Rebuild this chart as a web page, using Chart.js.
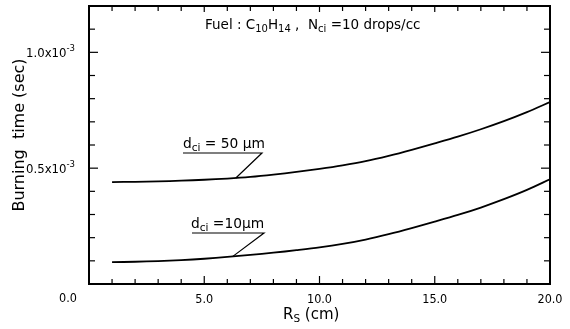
<!DOCTYPE html>
<html><head><meta charset="utf-8">
<script src="https://cdn.jsdelivr.net/npm/chart.js@4"></script>
<style>html,body{margin:0;padding:0;background:#fff}#wrap{width:570px;height:329px}</style>
</head><body><div id="wrap"><canvas id="c" width="570" height="329"></canvas></div>
<script>
// Source radius R_S (cm)
const rs = [1,2,3,4,5,6,7,8,9,10,11,12,13,14,15,16,17,18,19,20];
// Burning time (sec), d_ci = 50 um
const burn50 = [0.440e-3,0.441e-3,0.443e-3,0.446e-3,0.450e-3,0.455e-3,0.462e-3,0.472e-3,0.484e-3,0.497e-3,0.512e-3,0.530e-3,0.553e-3,0.579e-3,0.607e-3,0.636e-3,0.668e-3,0.703e-3,0.742e-3,0.785e-3];
// Burning time (sec), d_ci = 10 um
const burn10 = [0.094e-3,0.096e-3,0.099e-3,0.103e-3,0.109e-3,0.117e-3,0.126e-3,0.135e-3,0.146e-3,0.158e-3,0.173e-3,0.192e-3,0.215e-3,0.241e-3,0.269e-3,0.298e-3,0.330e-3,0.366e-3,0.406e-3,0.452e-3];
const xTickLabels = ['5.0','10.0','15.0','20.0'];
const yTickLabels = [[0.5e-3,'0.5x10','-3'],[1.0e-3,'1.0x10','-3']];

const FONT = '"DejaVu Sans",sans-serif';
const FONTC = '"DejaVu Sans Condensed","DejaVu Sans",sans-serif';

function interp(xs, ys, x){
  for(let i=0;i<xs.length-1;i++){
    if(x>=xs[i] && x<=xs[i+1]){const t=(x-xs[i])/(xs[i+1]-xs[i]);return ys[i]+t*(ys[i+1]-ys[i]);}
  }
  return ys[ys.length-1];
}

function drawRich(ctx, parts, x, y, fam){
  let cx = x;
  for(const [t,s,dy] of parts){
    ctx.font = s+'px '+(fam||FONT);
    ctx.fillText(t, cx, y+dy);
    cx += ctx.measureText(t).width;
  }
  return cx;
}
function richWidth(ctx, parts, fam){
  let w=0;
  for(const [t,s] of parts){ ctx.font = s+'px '+(fam||FONT); w += ctx.measureText(t).width; }
  return w;
}

const deco = {
  id:'deco',
  afterDraw(chart){
    const ctx = chart.ctx, xs = chart.scales.x, ys = chart.scales.y, a = chart.chartArea;
    ctx.save();
    ctx.strokeStyle='#000'; ctx.fillStyle='#000';
    // ticks
    ctx.lineWidth=1.2;
    for(let v=0; v<=20; v++){
      const px = xs.getPixelForValue(v);
      const L = v%5===0 ? 8 : 5;
      ctx.beginPath(); ctx.moveTo(px,a.bottom); ctx.lineTo(px,a.bottom-L); ctx.stroke();
      ctx.beginPath(); ctx.moveTo(px,a.top); ctx.lineTo(px,a.top+(v%5===0?6:5)); ctx.stroke();
    }
    for(let k=0; k<=12; k++){
      const py = ys.getPixelForValue(k*1e-4);
      const L = k%5===0 ? 9 : 6;
      ctx.beginPath(); ctx.moveTo(a.left,py); ctx.lineTo(a.left+L,py); ctx.stroke();
      ctx.beginPath(); ctx.moveTo(a.right,py); ctx.lineTo(a.right-L,py); ctx.stroke();
    }
    // frame
    ctx.lineWidth=2;
    ctx.strokeRect(a.left,a.top,a.right-a.left,a.bottom-a.top);
    ctx.textBaseline='alphabetic';
    // y tick labels with superscript
    for(const [v,main,sup] of yTickLabels){
      const py = ys.getPixelForValue(v);
      const parts=[[main,13,0],[sup,9.5,-6]];
      const w = richWidth(ctx, parts, FONTC);
      drawRich(ctx, parts, 75-w, py+5, FONTC);
    }
    // corner 0.0 label
    ctx.textAlign='center';
    ctx.font='12.5px '+FONTC;
    ctx.fillText('0.0', a.left-21, a.bottom+18);
    ctx.textAlign='left';
    // y title
    ctx.save();
    ctx.translate(24, 135); ctx.rotate(-Math.PI/2);
    ctx.textAlign='center'; ctx.font='16px '+FONT;
    ctx.fillText('Burning  time (sec)', 0, 0);
    ctx.restore();
    // x title
    drawRich(ctx, [['R',15,0],['S',10.5,3],[' (cm)',15,0]], 283, 319);
    // header
    drawRich(ctx, [['Fuel : C',13.5,0],['10',10,3],['H',13.5,0],['14',10,3],[' ,  N',13.5,0],['ci',10,3],[' =10 drops/cc',13.5,0]], 205, 29);
    // curve labels
    ctx.lineWidth=1.2;
    const labels = [
      {ys:burn50, xv:6.37, tx:183, ty:148, ux0:183, ux1:262, uy:153, txt:' = 50 µm', fs:13.8},
      {ys:burn10, xv:6.24, tx:191, ty:228, ux0:192, ux1:264, uy:233, txt:' =10µm', fs:13.8}
    ];
    for(const L of labels){
      drawRich(ctx, [['d',L.fs,0],['ci',10.5,3],[L.txt,L.fs,0]], L.tx, L.ty);
      const ex = xs.getPixelForValue(L.xv), ey = ys.getPixelForValue(interp(rs, L.ys, L.xv));
      ctx.beginPath(); ctx.moveTo(L.ux0, L.uy); ctx.lineTo(L.ux1, L.uy); ctx.lineTo(ex, ey); ctx.stroke();
    }
    ctx.restore();
  }
};

new Chart(document.getElementById('c'), {
  type:'line',
  data:{
    datasets:[
      {label:'d_ci = 50 um', data: rs.map((x,i)=>({x, y:burn50[i]})), borderColor:'#000', borderWidth:1.8, pointRadius:0, tension:0.3, fill:false},
      {label:'d_ci = 10 um', data: rs.map((x,i)=>({x, y:burn10[i]})), borderColor:'#000', borderWidth:1.8, pointRadius:0, tension:0.3, fill:false}
    ]
  },
  options:{
    responsive:false, animation:false, devicePixelRatio:1,
    layout:{padding:{left:0,right:20,top:6,bottom:0}},
    plugins:{legend:{display:false}, tooltip:{enabled:false}},
    scales:{
      x:{type:'linear', min:0, max:20,
        grid:{display:false}, border:{display:false},
        afterFit(s){ s.height = 45; s.paddingLeft = 0; s.paddingRight = 0; },
        ticks:{stepSize:1, autoSkip:false, maxRotation:0, padding:0, color:'#000', font:{family:FONTC, size:12.5},
          callback(v){ const r=Math.round(v); return (r%5===0 && r>0) ? xTickLabels[r/5-1] : ''; }}
      },
      y:{type:'linear', min:0, max:1.2e-3,
        grid:{display:false}, border:{display:false},
        afterFit(s){ s.width = 89; s.paddingTop = 0; s.paddingBottom = 0; },
        ticks:{display:false, stepSize:1e-4}
      }
    }
  },
  plugins:[deco]
});
</script></body></html>
